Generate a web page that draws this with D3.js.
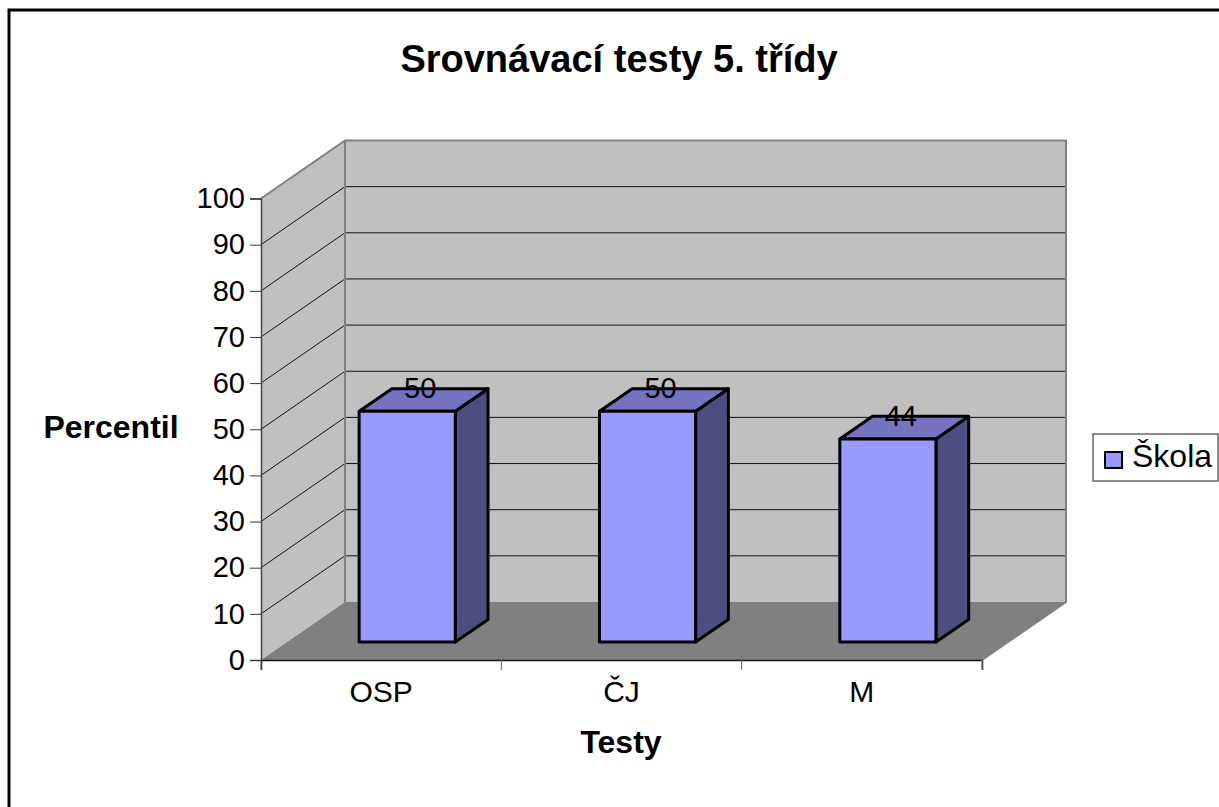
<!DOCTYPE html>
<html>
<head>
<meta charset="utf-8">
<script src="https://cdnjs.cloudflare.com/ajax/libs/d3/7.8.5/d3.min.js"></script>
<style>
  html, body { margin: 0; padding: 0; background: #fff; }
  svg { display: block; }
  text { font-family: "Liberation Sans", Arial, sans-serif; fill: #000; }
</style>
</head>
<body>
<div id="chart"></div>
<script>
var categories = ["OSP", "ČJ", "M"];
var values = [50, 50, 44];
var yTicks = [0, 10, 20, 30, 40, 50, 60, 70, 80, 90, 100];
var seriesName = "Škola";

var width = 1219,
    height = 807;

// depth of the fake 3d box
var depthX = 84,
    depthY = 58;

var x = d3.scaleBand().domain(categories).range([261, 982]);
var y = d3.scaleLinear().domain([0, 100]).range([660, 198.5]);

// z goes 0 (front) to 1 (back wall)
function px(left, z) { return left + z * depthX; }
function py(v, z) { return y(v) - z * depthY; }
function pts(list) {
  return list.map(function(p) { return px(p[0], p[2]) + "," + py(p[1], p[2]); }).join(" ");
}

var svg = d3.select("#chart").append("svg")
  .attr("width", width)
  .attr("height", height);

// outer frame, only top and left are inside the picture
svg.append("path")
  .attr("d", "M9," + height + "V10H" + width)
  .attr("fill", "none")
  .attr("stroke", "#000")
  .attr("stroke-width", 3);

var x0 = x.range()[0], x1 = x.range()[1];

// walls and floor
svg.append("polygon")
  .attr("points", pts([[x0, 0, 0], [x0, 100, 0], [x0, 100, 1], [x0, 0, 1]]))
  .attr("fill", "#c0c0c0");
svg.append("polygon")
  .attr("points", pts([[x0, 0, 1], [x0, 100, 1], [x1, 100, 1], [x1, 0, 1]]))
  .attr("fill", "#c0c0c0");
svg.append("polygon")
  .attr("points", pts([[x0, 0, 0], [x0, 0, 1], [x1, 0, 1], [x1, 0, 0]]))
  .attr("fill", "#808080");

// gridlines, side wall then back wall
svg.selectAll(".grid")
  .data(yTicks.filter(function(d) { return d > 0 && d < 100; }))
  .enter().append("polyline")
  .attr("class", "grid")
  .attr("points", function(d) { return pts([[x0, d, 0], [x0, d, 1], [x1, d, 1]]); })
  .attr("fill", "none")
  .attr("stroke", "#111")
  .attr("stroke-width", 1);

// wall edges
svg.append("polyline")
  .attr("points", pts([[x0, 100, 0], [x0, 100, 1], [x1, 100, 1], [x1, 0, 1], [x1, 0, 0]]))
  .attr("fill", "none")
  .attr("stroke", "#808080")
  .attr("stroke-width", 2);
svg.append("line")
  .attr("x1", px(x0, 1)).attr("y1", py(100, 1))
  .attr("x2", px(x0, 1)).attr("y2", py(0, 1))
  .attr("stroke", "#808080")
  .attr("stroke-width", 2);

// axes
var yAxis = d3.axisLeft(y).tickValues(yTicks).tickSize(11).tickPadding(5);
var gy = svg.append("g").attr("transform", "translate(" + x0 + ",0)").call(yAxis);
gy.selectAll("text").style("font-size", "29px");
gy.selectAll("line").attr("stroke", "#333").attr("stroke-width", 1);
gy.select(".domain").attr("stroke", "#444").attr("stroke-width", 1.5);

var xAxis = d3.axisBottom(x).tickSize(10).tickSizeOuter(10).tickPadding(11);
var gx = svg.append("g").attr("transform", "translate(0," + y(0) + ")").call(xAxis);
gx.selectAll(".tick line")
  .attr("transform", function() { return "translate(" + (-x.bandwidth() / 2) + ",0)"; })
  .attr("stroke", "#666");
gx.selectAll("text").style("font-size", "30px");
gx.select(".domain").attr("stroke", "#111").attr("stroke-width", 1.5);
gx.append("line")
  .attr("x1", x1).attr("x2", x1).attr("y1", 0).attr("y2", 10)
  .attr("stroke", "#808080");

// bars
var zFront = 0.31, zBack = 0.7, barPad = 0.6;
var barLeft = function(d) { return x(d) + x.bandwidth() * barPad / 2; };
var barRight = function(d) { return x(d) + x.bandwidth() * (1 - barPad / 2); };

var bars = svg.selectAll(".bar")
  .data(categories.map(function(c, i) { return { cat: c, val: values[i] }; }))
  .enter().append("g").attr("class", "bar");

bars.append("polygon")
  .attr("points", function(d) {
    var r = barRight(d.cat);
    return pts([[r, 0, zFront], [r, d.val, zFront], [r, d.val, zBack], [r, 0, zBack]]);
  })
  .attr("fill", "#4d4d80");
bars.append("polygon")
  .attr("points", function(d) {
    var l = barLeft(d.cat), r = barRight(d.cat);
    return pts([[l, d.val, zFront], [l, d.val, zBack], [r, d.val, zBack], [r, d.val, zFront]]);
  })
  .attr("fill", "#7373bf");
bars.append("polygon")
  .attr("points", function(d) {
    var l = barLeft(d.cat), r = barRight(d.cat);
    return pts([[l, 0, zFront], [l, d.val, zFront], [r, d.val, zFront], [r, 0, zFront]]);
  })
  .attr("fill", "#9999ff");
bars.selectAll("polygon")
  .attr("stroke", "#000")
  .attr("stroke-width", 3)
  .attr("stroke-linejoin", "round");

bars.append("text")
  .attr("x", function(d) { return px(x(d.cat) + x.bandwidth() / 2, zFront) + 13; })
  .attr("y", function(d) { return py(d.val, zFront) - 13; })
  .attr("text-anchor", "middle")
  .style("font-size", "29px")
  .text(function(d) { return d.val; });

// titles
svg.append("text")
  .attr("x", 619).attr("y", 72)
  .attr("text-anchor", "middle")
  .style("font-size", "38px").style("font-weight", "bold")
  .text("Srovnávací testy 5. třídy");
svg.append("text")
  .attr("x", 111).attr("y", 438)
  .attr("text-anchor", "middle")
  .style("font-size", "32px").style("font-weight", "bold")
  .text("Percentil");
svg.append("text")
  .attr("x", 621).attr("y", 753)
  .attr("text-anchor", "middle")
  .style("font-size", "32px").style("font-weight", "bold")
  .text("Testy");

// legend
var legend = svg.append("g");
legend.append("rect")
  .attr("x", 1093).attr("y", 434)
  .attr("width", 125).attr("height", 47)
  .attr("fill", "#fff")
  .attr("stroke", "#666")
  .attr("stroke-width", 1.5);
legend.append("rect")
  .attr("x", 1105).attr("y", 452)
  .attr("width", 17).attr("height", 16)
  .attr("fill", "#9999ff")
  .attr("stroke", "#000")
  .attr("stroke-width", 2);
legend.append("text")
  .attr("x", 1132).attr("y", 467)
  .style("font-size", "32px")
  .text(seriesName);
</script>
</body>
</html>
